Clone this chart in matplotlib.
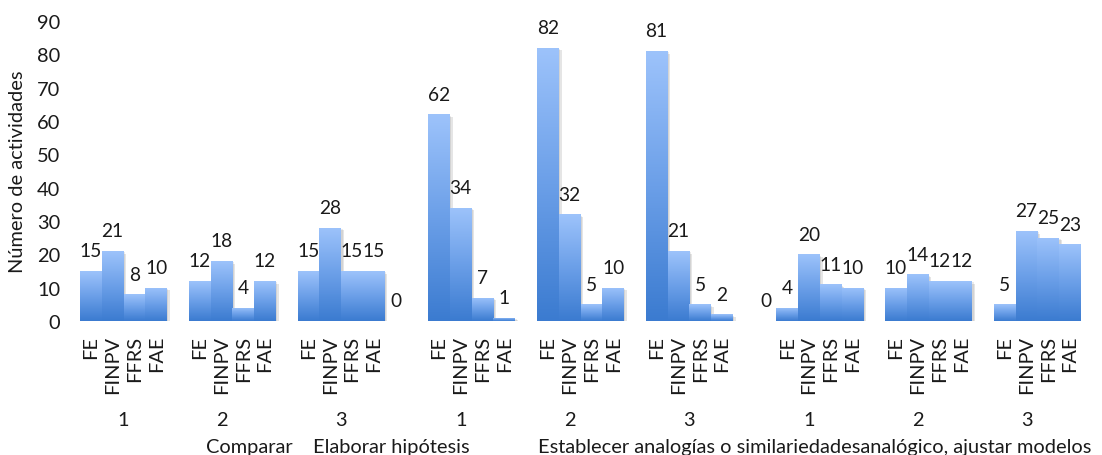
import numpy as np
import matplotlib
matplotlib.use("Agg")
import matplotlib.pyplot as plt
from matplotlib import patheffects as pe
from matplotlib.colors import LinearSegmentedColormap

# ---- data -------------------------------------------------------------
factors = ["FE", "FINPV", "FFRS", "FAE"]
levels = ["1", "2", "3"]
skills = ["Comparar", "Elaborar hipótesis",
          "Establecer analogías o similariedadesanalógico, ajustar modelos"]

comparar = [[15, 21, 8, 10], [12, 18, 4, 12], [15, 28, 15, 15]]
elaborar_hipotesis = [[62, 34, 7, 1], [82, 32, 5, 10], [81, 21, 5, 2]]
establecer_analogias = [[4, 20, 11, 10], [10, 14, 12, 12], [5, 27, 25, 23]]

# Rows of the source sheet per level: "F" factor row, "_" empty row,
# "0" unlabelled row holding a zero
row_layout = ["FFFF", "_FFFF", "_FFFF0", "_FFFF", "_FFFF", "_FFFF_",
              "0FFFF", "_FFFF", "_FFFF"]

# ---- style ------------------------------------------------------------
FONT = "Lato"
FS = 14.4
FS_VAL = 13.8
TXT = "#1a1a1a"
plt.rcParams["font.family"] = [FONT, "DejaVu Sans"]
plt.rcParams["font.size"] = FS

W, H = 1102, 456
fig = plt.figure(figsize=(W / 100, H / 100), dpi=100)
ax_left, ax_right, ax_top, ax_bottom = 80, 1081, 22, 322
ax = fig.add_axes([ax_left / W, 1 - ax_bottom / H,
                   (ax_right - ax_left) / W, (ax_bottom - ax_top) / H])

# ---- build slot sequence ---------------------------------------------
groups = comparar + elaborar_hipotesis + establecer_analogias
bar_x, bar_h, tick_x, tick_lab, level_centers = [], [], [], [], []
pos = 0
for layout, vals in zip(row_layout, groups):
    start = pos
    k = 0
    for c in layout:
        if c == "F":
            bar_x.append(pos)
            bar_h.append(vals[k])
            tick_x.append(pos)
            tick_lab.append(factors[k])
            k += 1
        elif c == "0":
            bar_x.append(pos)
            bar_h.append(0)
        pos += 1
    level_centers.append((start + pos - 1) / 2)
n_slots = pos

soft_shadow = [pe.SimplePatchShadow(offset=(2, -2), shadow_rgbFace="black", alpha=0.10),
               pe.SimplePatchShadow(offset=(1, -1), shadow_rgbFace="black", alpha=0.08),
               pe.Normal()]
flat_shadow = [pe.Stroke(offset=(1, -1), linewidth=2.0, foreground=(0, 0, 0, 0.08)),
               pe.Normal()]
bars = ax.bar(bar_x, bar_h, width=1.0, color="#6a9fe6", linewidth=0, zorder=2)
for b, h in zip(bars, bar_h):
    b.set_path_effects(soft_shadow if h > 0 else flat_shadow)

cmap = LinearSegmentedColormap.from_list("barfill", ["#3b7bd0", "#6b9fe8", "#9dc3fb"])
grad = np.linspace(0, 1, 256).reshape(-1, 1)
for b, x, h in zip(bars, bar_x, bar_h):
    if h > 0:
        im = ax.imshow(grad, cmap=cmap, origin="lower", aspect="auto",
                       extent=[x - 0.5, x + 0.5, 0, h], zorder=3,
                       interpolation="bicubic")
        im.set_clip_path(b)
    ax.annotate(f"{h}", (x, h), xytext=(0, 14.5), textcoords="offset points",
                ha="center", va="center", color=TXT, fontsize=FS_VAL, zorder=4)

ax.set_xlim(-0.5, n_slots - 0.5)
ax.set_ylim(0, 90)
ax.set_yticks(range(0, 91, 10))
ax.set_xticks(tick_x)
ax.set_xticklabels(tick_lab, rotation=90, va="top", ha="center")
ax.tick_params(axis="x", length=0, pad=10, colors=TXT, labelsize=FS)
ax.tick_params(axis="y", length=0, pad=14.4, colors=TXT, labelsize=FS)
for s in ax.spines.values():
    s.set_visible(False)

# level numbers under each block
tx = ax.get_xaxis_transform()
for i, c in enumerate(level_centers):
    ax.text(c, -0.33, levels[i % 3], transform=tx, ha="center", va="center",
            color=TXT, fontsize=FS)

# skill names
ax.text(7.27, -0.42, skills[0], transform=tx, ha="center", va="center", color=TXT, fontsize=FS)
ax.text(13.82, -0.42, skills[1], transform=tx, ha="center", va="center", color=TXT, fontsize=FS)
ax.text(20.55, -0.42, skills[2], transform=tx, ha="left", va="center", color=TXT, fontsize=FS)

fig.text(18 / W, 1 - 172 / H, "Número de actividades", rotation=90,
         ha="center", va="center", color=TXT, fontsize=FS)

fig.savefig("out.png", dpi=100)
